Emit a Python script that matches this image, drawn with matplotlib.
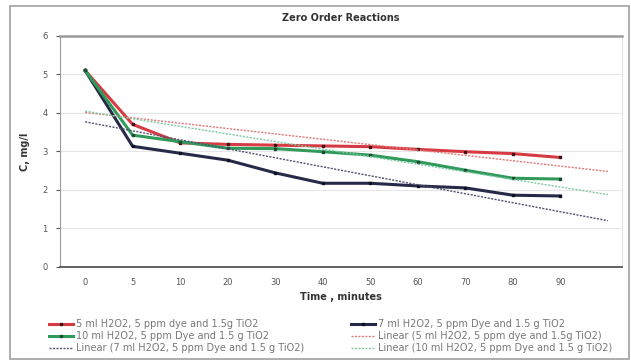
import numpy as np
import matplotlib
matplotlib.use('Agg')
from matplotlib import pyplot as plt
from matplotlib.patches import Rectangle

# time categories (minutes)
times = ['0', '5', '10', '20', '30', '40', '50', '60', '70', '80', '90']

# concentration, mg/l
c_5ml = [5.1, 3.7, 3.22, 3.18, 3.16, 3.14, 3.12, 3.05, 2.99, 2.94, 2.84]
c_7ml = [5.1, 3.13, 2.95, 2.77, 2.44, 2.17, 2.17, 2.1, 2.05, 1.86, 1.84]
c_10ml = [5.1, 3.42, 3.25, 3.08, 3.07, 2.99, 2.9, 2.73, 2.51, 2.3, 2.28]

lbl_5 = '5 ml H2O2, 5 ppm dye and 1.5g TiO2'
lbl_7 = '7 ml H2O2, 5 ppm Dye and 1.5 g TiO2'
lbl_10 = '10 ml H2O2, 5 ppm Dye and 1.5 g TiO2'


def trend(y, forward=1):
    # excel style linear trendline, x = category index, forecast forward
    x = np.arange(len(y))
    k, b = np.polyfit(x, y, 1)
    xt = np.array([0, len(y) - 1 + forward])
    return xt, k * xt + b


fig = plt.figure(figsize=(6.31, 3.62), dpi=100)
ax = fig.add_axes([0.095, 0.263, 0.891, 0.638])

x = np.arange(len(times))
h5, = ax.plot(x, c_5ml, color='#d63a42', lw=2.2, marker='s', ms=2, mfc='#401018', mec='#401018', label=lbl_5)
h7, = ax.plot(x, c_7ml, color='#262a48', lw=2.2, marker='s', ms=2, mfc='#101020', mec='#101020', label=lbl_7)
h10, = ax.plot(x, c_10ml, color='#2f9a5a', lw=2.2, marker='s', ms=2, mfc='#1d4a30', mec='#1d4a30', label=lbl_10)

xt, yt = trend(c_5ml)
t5, = ax.plot(xt, yt, color='#e07878', lw=1.0, ls=(0, (1.5, 1)), label='Linear (' + lbl_5 + ')')
xt, yt = trend(c_7ml)
t7, = ax.plot(xt, yt, color='#505070', lw=1.0, ls=(0, (1.5, 1)), label='Linear (' + lbl_7 + ')')
xt, yt = trend(c_10ml)
t10, = ax.plot(xt, yt, color='#7fc9a5', lw=1.0, ls=(0, (1.5, 1)), label='Linear (' + lbl_10 + ')')

ax.set_xlim(-0.53, 11.3)
ax.set_ylim(0, 6)
ax.set_xticks(x)
ax.set_xticklabels(times)
ax.set_yticks(range(7))
ax.grid(axis='y', color='#e6e6e6', lw=0.8)
ax.set_axisbelow(True)
ax.tick_params(labelsize=6, colors='#555555', length=3, pad=6)
ax.tick_params(axis='x', length=0, pad=8)

ax.spines['top'].set_color('#9a9a9a')
ax.spines['top'].set_linewidth(1.8)
ax.spines['right'].set_color('#e0e0e0')
ax.spines['left'].set_color('#9a9a9a')
ax.spines['bottom'].set_color('#555555')
ax.spines['bottom'].set_linewidth(1.3)

ax.set_title('Zero Order Reactions', fontsize=7, fontweight='bold', color='#333333', pad=11)
ax.set_xlabel('Time , minutes', fontsize=7, fontweight='bold', color='#333333', labelpad=4)
ax.set_ylabel('C, mg/l', fontsize=7, fontweight='bold', color='#333333', labelpad=9)

handles = [h5, h10, t7, h7, t5, t10]
fig.legend(handles=handles, labels=[h.get_label() for h in handles], ncol=2, loc='lower left',
           bbox_to_anchor=(0.064, 0.0), frameon=False, fontsize=7.0, handlelength=2.5,
           columnspacing=4.8, labelspacing=0.2, handletextpad=0.25, labelcolor='#777777')

# outer chart border
fig.patches.append(Rectangle((10 / 631, 3 / 362), 619 / 631, 353 / 362, transform=fig.transFigure,
                             fill=False, ec='#a0a0a0', lw=1.2))

fig.savefig('out.png', dpi=100)
